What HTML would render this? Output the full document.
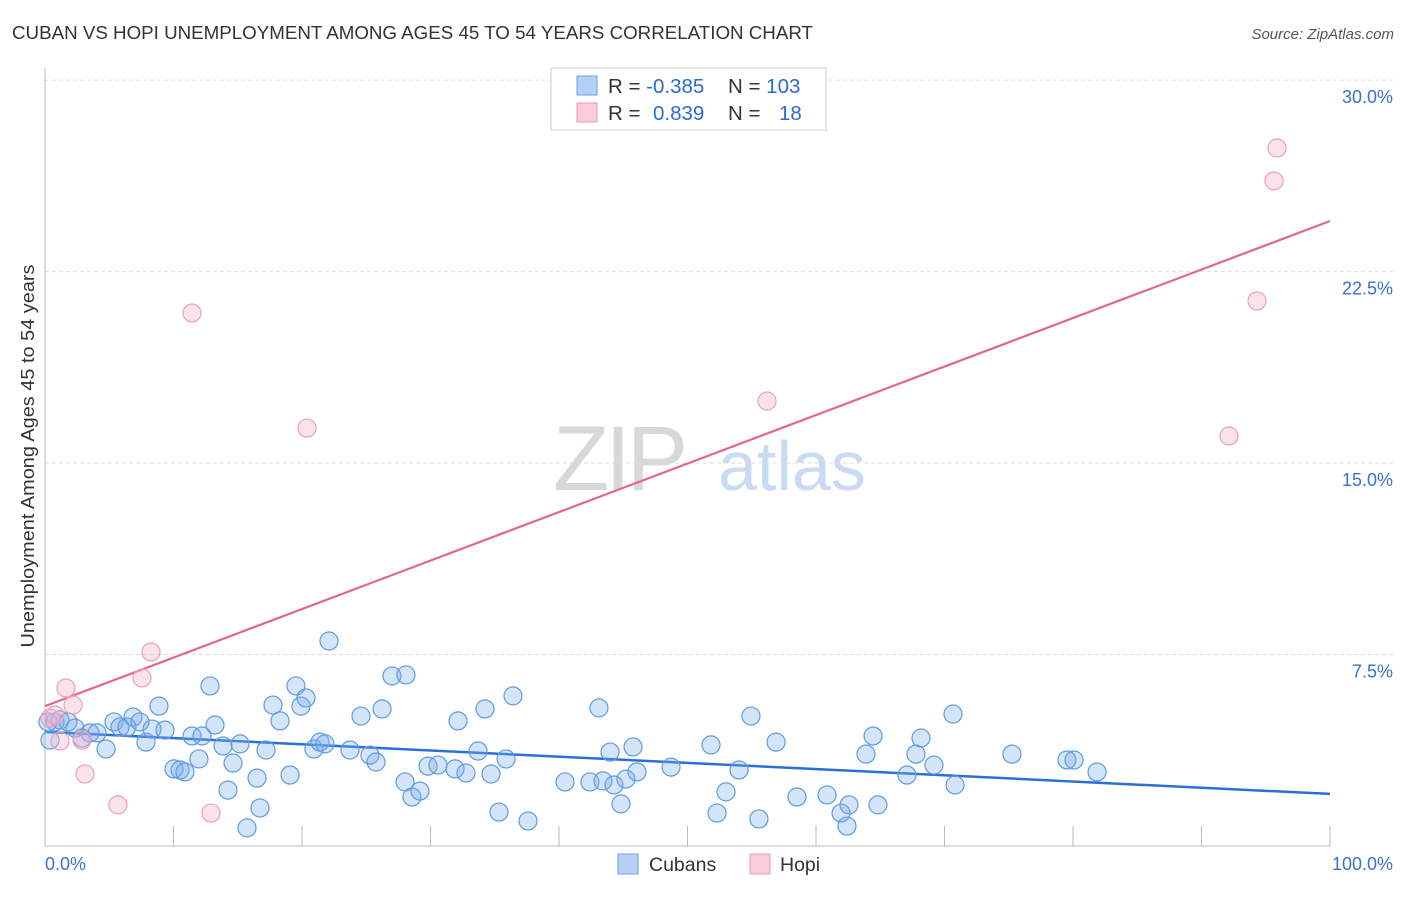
<!DOCTYPE html>
<html><head><meta charset="utf-8"><style>
body{margin:0;background:#fff;font-family:"Liberation Sans",sans-serif}
svg text{font-family:"Liberation Sans",sans-serif}
</style></head><body>
<svg id="chart" width="1406" height="892" viewBox="0 0 1406 892" xmlns="http://www.w3.org/2000/svg">
<text x="12" y="39" font-size="18.6" fill="#333" textLength="801" lengthAdjust="spacingAndGlyphs">CUBAN VS HOPI UNEMPLOYMENT AMONG AGES 45 TO 54 YEARS CORRELATION CHART</text>
<text x="1394" y="39" font-size="15" fill="#555" text-anchor="end" font-style="italic">Source: ZipAtlas.com</text>
<g>
<text x="553" y="490" font-size="92" fill="#d8d8d8" font-family="Liberation Serif" letter-spacing="-4">ZIP</text>
<text x="718" y="490" font-size="70" fill="#c9daf3">atlas</text>
</g>
<g id="grid"></g>
<g id="axes"></g>
<g id="trends"></g>
<g id="pts"></g>
<text transform="translate(34,456) rotate(-90)" font-size="18.5" fill="#333" text-anchor="middle" textLength="383" lengthAdjust="spacingAndGlyphs">Unemployment Among Ages 45 to 54 years</text>
<g>
<rect x="551" y="68" width="275" height="62" fill="#fff" stroke="#ccc"/>
<rect x="577" y="76" width="20" height="19" fill="#b5d0f5" stroke="#6a9fe0"/>
<rect x="577" y="103" width="20" height="19" fill="#fbcbd9" stroke="#e89ab4"/>
<text x="608" y="93" font-size="20.5" fill="#333">R = <tspan fill="#2a6bd1">-0.385</tspan><tspan x="728">N = </tspan><tspan fill="#2a6bd1">103</tspan></text>
<text x="608" y="120" font-size="20.5" fill="#333">R = <tspan x="653" fill="#2a6bd1">0.839</tspan><tspan x="728">N = </tspan><tspan x="779" fill="#2a6bd1">18</tspan></text>
</g>
<g>
<rect x="618" y="854" width="20" height="20" fill="#b5d0f5" stroke="#6a9fe0"/>
<text x="649" y="871" font-size="19.5" fill="#333">Cubans</text>
<rect x="750" y="854" width="20" height="20" fill="#fbcbd9" stroke="#e89ab4"/>
<text x="780" y="871" font-size="19.5" fill="#333">Hopi</text>
</g>
</svg>
<script>
const cubanX=[0.39,0.78,1.17,1.79,2.33,2.88,3.50,4.05,4.75,5.37,5.84,6.38,6.85,7.39,7.86,8.33,8.87,9.34,10.04,10.51,10.89,11.44,11.98,12.22,12.84,13.23,13.85,14.24,14.63,15.18,16.50,16.73,17.20,17.74,18.29,19.07,19.53,19.92,20.31,20.93,21.40,21.79,22.10,23.74,24.59,25.29,25.76,26.23,27.00,28.09,28.02,28.56,29.18,29.81,30.58,31.91,32.14,32.76,34.24,33.70,34.71,35.33,35.88,36.42,37.59,40.47,42.41,43.11,43.42,43.97,44.28,44.82,45.21,45.76,46.07,48.72,51.83,52.30,53.00,54.01,54.94,55.56,56.89,58.52,60.86,61.95,62.57,62.41,63.89,64.44,64.82,67.08,67.78,68.17,69.18,70.66,70.82,75.25,79.53,80.08,81.87,15.72,0.23];
const cubanY=[4.15,4.86,4.94,4.86,4.62,4.23,4.43,4.43,3.80,4.86,4.66,4.66,5.05,4.86,4.07,4.58,5.48,4.54,3.02,2.98,2.90,4.31,3.41,4.31,6.27,4.74,3.92,2.19,3.25,4.00,2.66,1.49,3.76,5.52,4.90,2.78,6.27,5.48,5.80,3.80,4.07,4.00,8.03,3.76,5.09,3.56,3.29,5.37,6.66,6.70,2.51,1.92,2.15,3.13,3.17,3.02,4.90,2.86,5.37,3.72,2.82,1.33,3.41,5.88,0.98,2.51,2.51,5.41,2.55,3.68,2.39,1.65,2.62,3.88,2.90,3.09,3.96,1.29,2.12,2.98,5.09,1.06,4.07,1.92,2.00,1.29,1.61,0.78,3.60,4.31,1.61,2.78,3.60,4.23,3.17,5.17,2.39,3.60,3.37,3.37,2.90,0.71,4.86];
const hopiX=[0.39,0.78,1.17,1.63,2.18,2.88,3.11,5.68,7.55,8.25,11.44,12.92,20.39,56.19,92.14,94.32,95.64,95.88];
const hopiY=[5.01,5.13,4.11,6.19,5.52,4.15,2.82,1.61,6.58,7.60,20.88,1.29,16.37,17.43,16.06,21.35,26.05,27.34];
const cubanTrend=[4.47,2.04];
const hopiTrend=[5.48,24.48];
const yTicks=[7.5,15.0,22.5,30.0];
const xTicks=[0,10,20,30,40,50,60,70,80,90,100];

const NS='http://www.w3.org/2000/svg';
const sx=v=>45+v*12.85;
const sy=v=>846-v*25.53;
function mk(tag,attrs,parent){const e=document.createElementNS(NS,tag);for(const k in attrs)e.setAttribute(k,attrs[k]);document.getElementById(parent).appendChild(e);return e;}
yTicks.forEach(t=>{
  const l=mk('line',{x1:45,x2:1393,y1:sy(t),y2:sy(t),stroke:'#ddd','stroke-dasharray':'4,3'},'grid');
  
  
  const tx=mk('text',{x:1393,y:sy(t)+23,'font-size':18,fill:'#3a72d0','text-anchor':'end'},'grid');
  tx.textContent=t.toFixed(1)+'%';
  
  
});
const ya=mk('line',{x1:45,x2:45,y1:68,y2:846,stroke:'#bbb'},'axes');


const xa=mk('line',{x1:45,x2:1330,y1:846,y2:846,stroke:'#bbb'},'axes');


xTicks.forEach(t=>{
  const l=mk('line',{x1:sx(t),x2:sx(t),y1:826,y2:846,stroke:'#bbb'},'axes');
  
  
});
[[0,'0.0%','start',45],[100,'100.0%','end',1393]].forEach(a=>{
  const tx=mk('text',{x:a[3],y:870,'font-size':18,fill:'#3a72d0','text-anchor':a[2]},'axes');
  tx.textContent=a[1];
  
  
});
cubanX.forEach((x,i)=>{
  const c=mk('circle',{cx:sx(x),cy:sy(cubanY[i]),r:9,fill:'rgba(120,170,235,0.32)',stroke:'#5f9be2','stroke-width':1.2},'pts');
  
  
});
hopiX.forEach((x,i)=>{
  const c=mk('circle',{cx:sx(x),cy:sy(hopiY[i]),r:9,fill:'rgba(248,180,202,0.38)',stroke:'#eaa0ba','stroke-width':1.2},'pts');
  
  
});
const ct=mk('line',{x1:sx(0),y1:sy(cubanTrend[0]),x2:sx(100),y2:sy(cubanTrend[1]),stroke:'#2a6fd6','stroke-width':2.5},'trends');


const ht=mk('line',{x1:sx(0),y1:sy(hopiTrend[0]),x2:sx(100),y2:sy(hopiTrend[1]),stroke:'#e5648e','stroke-width':2.2},'trends');


</script>
</body></html>
